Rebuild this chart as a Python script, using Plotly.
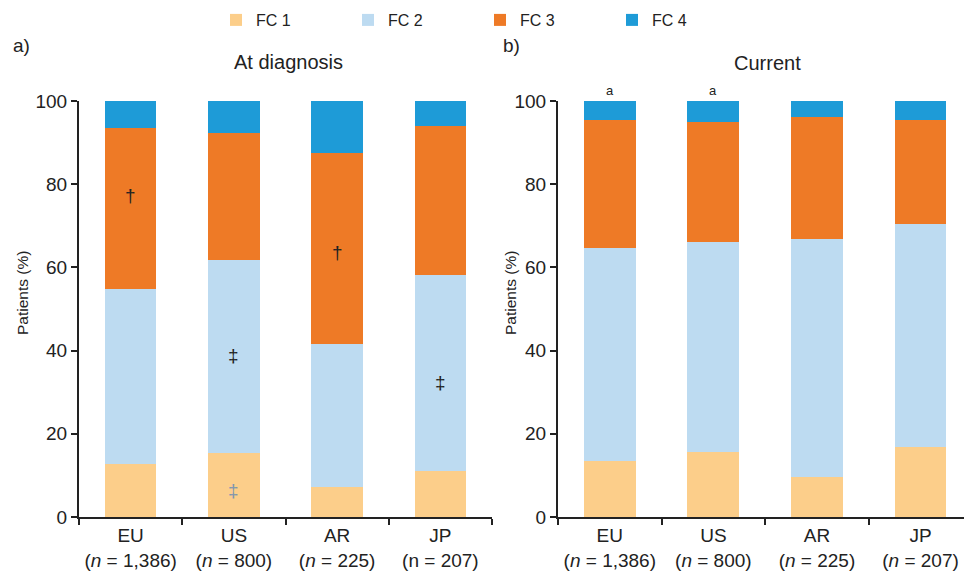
import plotly.graph_objects as go

# Regions and sample sizes
regions = ["EU", "US", "AR", "JP"]
n_diag = ["(<i>n</i> = 1,386)", "(<i>n</i> = 800)", "(<i>n</i> = 225)", "(n = 207)"]
n_curr = ["(<i>n</i> = 1,386)", "(<i>n</i> = 800)", "(<i>n</i> = 225)", "(<i>n</i> = 207)"]

fc_names = ["FC 1", "FC 2", "FC 3", "FC 4"]
fc_colors = ["#FCCE8A", "#BDDBF1", "#EE7A26", "#1E9BD7"]

# Functional class distribution (% of patients) at diagnosis
diag_fc1 = [12.8, 15.3, 7.1, 11.0]
diag_fc2 = [41.9, 46.6, 34.6, 47.1]
diag_fc3 = [38.9, 30.3, 45.7, 36.0]
diag_fc4 = [6.4, 7.8, 12.6, 5.9]

# Functional class distribution (% of patients) at current visit
curr_fc1 = [13.4, 15.6, 9.5, 16.8]
curr_fc2 = [51.2, 50.6, 57.3, 53.6]
curr_fc3 = [30.8, 28.8, 29.3, 25.0]
curr_fc4 = [4.6, 5.0, 3.9, 4.6]

y_ticks = [0, 20, 40, 60, 80, 100]

# Significance markers: (panel, region index, y value, symbol, colour)
markers = [
    ("diag", 0, 77.4, "†", "#222222"),
    ("diag", 1, 38.9, "‡", "#222222"),
    ("diag", 1, 6.4, "‡", "#8096AE"),
    ("diag", 2, 63.5, "†", "#222222"),
    ("diag", 3, 32.3, "‡", "#222222"),
    ("curr", 0, 100, "a", "#222222"),
    ("curr", 1, 100, "a", "#222222"),
]

FONT = "Arial, 'Liberation Sans', Helvetica, sans-serif"
INK = "#222222"

x_diag = [f"{r}<br>{n}" for r, n in zip(regions, n_diag)]
x_curr = [f"{r}<br>{n}" for r, n in zip(regions, n_curr)]

fig = go.Figure()

diag_series = [diag_fc1, diag_fc2, diag_fc3, diag_fc4]
curr_series = [curr_fc1, curr_fc2, curr_fc3, curr_fc4]

for name, color, vals in zip(fc_names, fc_colors, diag_series):
    fig.add_trace(go.Bar(
        x=x_diag, y=vals, name=name, marker_color=color,
        marker_line_width=0, width=0.5, xaxis="x", yaxis="y",
        legendgroup=name, showlegend=True,
    ))
for name, color, vals in zip(fc_names, fc_colors, curr_series):
    fig.add_trace(go.Bar(
        x=x_curr, y=vals, name=name, marker_color=color,
        marker_line_width=0, width=0.5, xaxis="x2", yaxis="y2",
        legendgroup=name, showlegend=False,
    ))

W, H = 964, 574
M_T, M_B = 101, 57
plot_h = H - M_T - M_B


def py(pixel_y):
    """Convert a pixel row to paper y."""
    return (H - M_B - pixel_y) / plot_h


def px(pixel_x):
    return pixel_x / W


xaxis_common = dict(
    type="category",
    showline=True, linecolor=INK, linewidth=2,
    ticks="outside", ticklen=6, tickwidth=2, tickcolor=INK,
    tickson="boundaries", tickangle=0, automargin=False,
    showgrid=False, zeroline=False,
    tickfont=dict(family=FONT, size=19, color=INK),
    fixedrange=True,
)
yaxis_common = dict(
    range=[0, 100], tickvals=y_ticks,
    showline=True, linecolor=INK, linewidth=2,
    ticks="outside", ticklen=6, tickwidth=2, tickcolor=INK,
    showgrid=False, zeroline=False, automargin=False,
    tickfont=dict(family=FONT, size=19, color=INK),
    fixedrange=True,
)

annotations = []
for panel, idx, yv, sym, col in markers:
    xs = x_diag if panel == "diag" else x_curr
    small = sym == "a"
    annotations.append(dict(
        x=xs[idx], y=yv, xref="x" if panel == "diag" else "x2",
        yref="y" if panel == "diag" else "y2",
        text=sym, showarrow=False,
        font=dict(family=FONT, size=13 if small else 19, color=col),
        yanchor="bottom" if small else "middle",
        yshift=1 if small else 0,
    ))

# Panel titles, labels and axis titles
annotations += [
    dict(x=px(288), y=py(62), xref="paper", yref="paper", text="At diagnosis",
         showarrow=False, font=dict(family=FONT, size=20, color=INK),
         xanchor="center", yanchor="middle"),
    dict(x=px(767), y=py(63), xref="paper", yref="paper", text="Current",
         showarrow=False, font=dict(family=FONT, size=20, color=INK),
         xanchor="center", yanchor="middle"),
    dict(x=px(11), y=py(45), xref="paper", yref="paper", text="a)",
         showarrow=False, font=dict(family=FONT, size=19, color=INK),
         xanchor="left", yanchor="middle"),
    dict(x=px(501), y=py(45), xref="paper", yref="paper", text="b)",
         showarrow=False, font=dict(family=FONT, size=19, color=INK),
         xanchor="left", yanchor="middle"),
    dict(x=px(22), y=py(293), xref="paper", yref="paper", text="Patients (%)",
         textangle=-90, showarrow=False, font=dict(family=FONT, size=15.5, color=INK),
         xanchor="center", yanchor="middle"),
    dict(x=px(510), y=py(293), xref="paper", yref="paper", text="Patients (%)",
         textangle=-90, showarrow=False, font=dict(family=FONT, size=15.5, color=INK),
         xanchor="center", yanchor="middle"),
]

fig.update_layout(
    width=W, height=H,
    margin=dict(l=0, r=0, t=M_T, b=M_B, autoexpand=False),
    paper_bgcolor="white", plot_bgcolor="white",
    barmode="stack",
    bargap=0.5,
    font=dict(family=FONT, color=INK),
    xaxis=dict(domain=[px(79), px(492)], range=[-0.5, 3.5], anchor="y", **xaxis_common),
    yaxis=dict(domain=[0, 1], anchor="x", **yaxis_common),
    xaxis2=dict(domain=[px(558), 1.0], range=[-0.5, 3.42], anchor="y2", **xaxis_common),
    yaxis2=dict(domain=[0, 1], anchor="x2", **yaxis_common),
    legend=dict(
        orientation="h", x=px(216), y=py(20), xanchor="left", yanchor="middle",
        font=dict(family=FONT, size=16, color=INK),
        entrywidth=87, entrywidthmode="pixels",
        traceorder="normal", bgcolor="rgba(0,0,0,0)",
    ),
    annotations=annotations,
    showlegend=True,
)

fig.write_html("out.html")
